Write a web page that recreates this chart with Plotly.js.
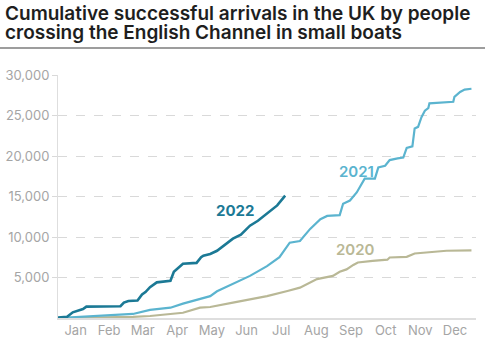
<!DOCTYPE html>
<html>
<head>
<meta charset="utf-8">
<script src="https://cdn.plot.ly/plotly-3.0.1.min.js"></script>
<style>
html,body{margin:0;padding:0;background:#fff;}
#chart{width:485px;height:360px;}
</style>
</head>
<body>
<div id="chart"></div>
<script>
// Day-of-year (0 = 1 Jan) and cumulative arrivals
const days2022 = [0, 8, 13, 17, 22, 25, 55, 58, 62, 70, 74, 77, 81, 87, 99, 102, 110, 122, 126, 128, 134, 140, 147, 154, 161, 169, 176, 184, 193, 200];
const vals2022 = [50, 150, 700, 900, 1100, 1400, 1450, 1900, 2100, 2150, 2900, 3200, 3800, 4400, 4600, 5700, 6700, 6800, 7500, 7700, 7900, 8300, 9000, 9800, 10300, 11400, 12000, 12900, 13900, 15100];

const days2021 = [0, 20, 43, 66, 81, 99, 110, 122, 134, 140, 154, 169, 184, 195, 204, 213, 222, 231, 237, 248, 251, 257, 263, 268, 270, 279, 282, 288, 292, 299, 304, 307, 312, 314, 317, 320, 323, 326, 327, 348, 349, 354, 358, 364];
const vals2021 = [0, 150, 370, 500, 1000, 1270, 1770, 2200, 2700, 3300, 4200, 5200, 6400, 7500, 9300, 9500, 11000, 12200, 12600, 12700, 14100, 14500, 15500, 16600, 17200, 17200, 18600, 18800, 19500, 19700, 19800, 21000, 21200, 23400, 23600, 24800, 25600, 25900, 26500, 26700, 27300, 27900, 28200, 28300];

const days2020 = [0, 37, 66, 81, 110, 125, 134, 154, 184, 202, 213, 228, 242, 248, 254, 260, 264, 277, 290, 292, 307, 314, 327, 342, 364];
const vals2020 = [0, 50, 150, 250, 650, 1270, 1360, 1900, 2700, 3340, 3750, 4800, 5200, 5700, 6000, 6550, 6850, 7050, 7200, 7470, 7550, 7960, 8080, 8300, 8350];

const monthTickDays = [15.5, 45, 74.5, 105, 135.5, 166, 196.5, 227.5, 258, 288.5, 319, 349.5];
const monthLabels = ["Jan","Feb","Mar","Apr","May","Jun","Jul","Aug","Sep","Oct","Nov","Dec"];
const yTicks = [5000, 10000, 15000, 20000, 25000, 30000];
const yTickLabels = ["5,000","10,000","15,000","20,000","25,000","30,000"];

const c2022 = "#1b7995", c2021 = "#5bb4cf", c2020 = "#b9b896";

const traces = [
  {x: days2020, y: vals2020, mode: "lines", line: {color: c2020, width: 2.2}, hoverinfo: "skip"},
  {x: days2021, y: vals2021, mode: "lines", line: {color: c2021, width: 2.2}, hoverinfo: "skip"},
  {x: days2022, y: vals2022, mode: "lines", line: {color: c2022, width: 2.6}, hoverinfo: "skip"}
];

const layout = {
  width: 485, height: 360,
  margin: {l: 58, r: 9, t: 75, b: 42},
  paper_bgcolor: "#fff", plot_bgcolor: "#fff",
  showlegend: false,
  font: {family: "Inter, 'Noto Sans', sans-serif", color: "#a5a5a5", size: 13},
  xaxis: {
    range: [0, 368], tickmode: "array", tickvals: monthTickDays, ticktext: monthLabels,
    showgrid: false, zeroline: false, showline: true, linecolor: "#dedede", linewidth: 1.5,
    ticks: "", tickfont: {size: 13, color: "#a5a5a5"}, fixedrange: true
  },
  yaxis: {
    range: [0, 30000], tickmode: "array", tickvals: yTicks, ticktext: yTickLabels,
    showgrid: true, gridcolor: "#d9d9d9", griddash: "dash", gridwidth: 1,
    zeroline: false, showline: true, linecolor: "#dedede", linewidth: 1,
    ticks: "outside", ticklen: 5, tickcolor: "#d9d9d9", tickfont: {size: 13, color: "#a5a5a5"},
    fixedrange: true
  },
  shapes: [
    {type: "line", xref: "paper", yref: "paper", x0: -58/418, x1: 427/418, y0: (318-48)/243, y1: (318-48)/243,
     line: {color: "#7d7d7d", width: 1.5}}
  ],
  annotations: [
    {text: "Cumulative successful arrivals in the UK by people", xref: "paper", yref: "paper",
     x: -54/418, y: (318-1)/243, xanchor: "left", yanchor: "top", showarrow: false, borderpad: 0,
     font: {family: "Inter, sans-serif", size: 19, color: "#1e1e1e", weight: 600}},
    {text: "crossing the English Channel in small boats", xref: "paper", yref: "paper",
     x: -54/418, y: (318-19.5)/243, xanchor: "left", yanchor: "top", showarrow: false, borderpad: 0,
     font: {family: "Inter, sans-serif", size: 19, color: "#1e1e1e", weight: 600}},
    {text: "2022", x: 156, y: 13250, xref: "x", yref: "y", showarrow: false,
     font: {family: "Inter, sans-serif", size: 15, color: c2022, weight: 700}},
    {text: "2021", x: 263, y: 18100, xref: "x", yref: "y", showarrow: false,
     font: {family: "Inter, sans-serif", size: 15, color: c2021, weight: 600}},
    {text: "2020", x: 262, y: 8500, xref: "x", yref: "y", showarrow: false,
     font: {family: "Inter, sans-serif", size: 15, color: c2020, weight: 600}}
  ]
};

Plotly.newPlot("chart", traces, layout, {displayModeBar: false, staticPlot: true});
</script>
</body>
</html>
